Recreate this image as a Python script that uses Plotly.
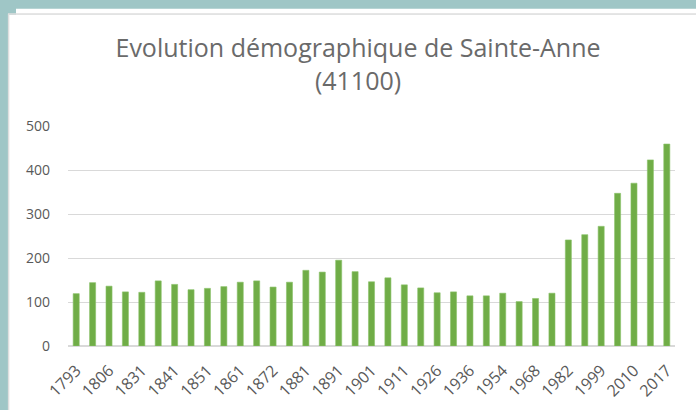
import plotly.graph_objects as go

years = ["1793", "1800", "1806", "1821", "1831", "1836", "1841", "1846", "1851", "1856",
         "1861", "1866", "1872", "1876", "1881", "1886", "1891", "1896", "1901", "1906",
         "1911", "1921", "1926", "1931", "1936", "1946", "1954", "1962", "1968", "1975",
         "1982", "1990", "1999", "2006", "2010", "2015", "2017"]
population = [119, 144, 136, 123, 122, 148, 140, 128, 131, 135,
              145, 148, 134, 145, 172, 168, 195, 169, 146, 155,
              139, 132, 121, 123, 114, 114, 120, 101, 108, 120,
              241, 253, 272, 347, 370, 423, 459]
tick_labels = years[::2]
y_ticks = [0, 100, 200, 300, 400, 500]

W, H = 696, 410
L, R, T, B = 68, 21, 125.7, 63.5
PW, PH = W - L - R, H - T - B


def px(x):
    return (x - L) / PW


def py(y):
    return (H - B - y) / PH


teal = "#9fc6c6"
fig = go.Figure()
fig.add_trace(go.Bar(x=years, y=population, marker=dict(color="#70ad47",
                     line=dict(color="#8cc26a", width=0.6)), hoverinfo="x+y"))

shapes = [
    dict(type="rect", xref="paper", yref="paper", x0=px(16), x1=px(W + 5), y0=py(8), y1=py(14),
         fillcolor="white", line=dict(width=0), layer="below"),
    dict(type="rect", xref="paper", yref="paper", x0=px(9), x1=px(W + 5), y0=py(14), y1=py(H + 5),
         fillcolor="white", line=dict(width=0), layer="below"),
    dict(type="line", xref="paper", yref="paper", x0=px(8), x1=px(W + 5), y0=py(13.2), y1=py(13.2),
         line=dict(color="#dedede", width=1.5), layer="below"),
    dict(type="line", xref="paper", yref="paper", x0=px(8.6), x1=px(8.6), y0=py(13), y1=py(H + 5),
         line=dict(color="#dedede", width=1.5), layer="below"),
]

fig.update_layout(
    width=W, height=H,
    margin=dict(l=L, r=R, t=T, b=B),
    paper_bgcolor=teal,
    plot_bgcolor="white",
    shapes=shapes,
    bargap=0.63,
    showlegend=False,
    title=dict(text="Evolution démographique de Sainte-Anne<br>(41100)",
               x=358 / W, xanchor="center", y=1 - 57 / H, yanchor="middle",
               font=dict(family="Open Sans", size=25, color="#6a6a6a")),
    font=dict(family="Open Sans", color="#595959", size=14),
    xaxis=dict(type="category", tickmode="array", tickvals=tick_labels, ticktext=tick_labels,
               tickangle=-45, showgrid=False, showline=False, ticks="", ticklabelstandoff=11,
               automargin=False, tickfont=dict(size=16, color="#595959")),
    yaxis=dict(range=[0, 500], tickvals=y_ticks, showgrid=True, gridcolor="#d9d9d9", gridwidth=1,
               zeroline=True, zerolinecolor="#d9d9d9", zerolinewidth=1.5, showline=False,
               automargin=False, ticks="", ticklabelstandoff=17,
               tickfont=dict(size=14, color="#595959")),
)

fig.write_html("out.html", config={"displayModeBar": False},
               post_script="document.body.style.margin='0px';")
